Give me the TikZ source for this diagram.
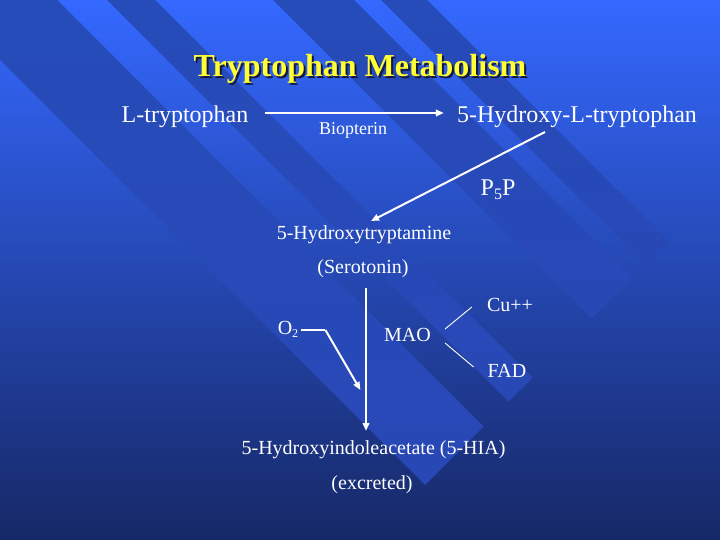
\documentclass[tikz,border=0pt]{standalone}
\usepackage{fontspec}
\setmainfont{Liberation Serif}
\usetikzlibrary{arrows.meta,calc}
\definecolor{bgtop}{RGB}{52,104,255}
\definecolor{bgmid}{RGB}{42,82,214}
\definecolor{bgbot}{RGB}{22,40,102}
\definecolor{bandtop}{RGB}{38,76,186}
\definecolor{bandbot}{RGB}{40,72,182}
\definecolor{titleyellow}{RGB}{255,255,51}
\definecolor{titleshadowcol}{RGB}{20,25,60}
\newcommand{\shadowtext}[1]{\makebox[0pt][l]{\hspace{2pt}\raisebox{-2pt}{\textcolor{titleshadowcol}{#1}}}#1}
\begin{document}
\begin{tikzpicture}[x=1pt,y=-1pt,
  txt/.style={text=white,inner sep=0pt,anchor=base},
  big/.style={txt,font=\fontsize{24}{28}\selectfont},
  mid/.style={txt,font=\fontsize{20}{24}\selectfont},
  small/.style={txt,font=\fontsize{18}{22}\selectfont},
  arr/.style={draw=white,line width=2pt,-{Triangle[length=8pt,width=6.5pt]}},
  thin/.style={draw=white,line width=0.9pt},
  band/.style={top color=bandtop,bottom color=bandbot}]
\useasboundingbox (0,0) rectangle (720,540);
\shade[top color=bgtop,middle color=bgmid,bottom color=bgbot] (0,0) rectangle (720,540);
\begin{scope}
\clip (0,0) rectangle (720,540);
\shade[band] (-60,0) -- (57,0) -- (483.5,426.5) -- (425,485) -- cycle;
\shade[band] (107,0) -- (155,0) -- (532.5,377.5) -- (508.5,401.5) -- cycle;
\shade[band] (273,0) -- (354,0) -- (632,278) -- (591.5,318.5) -- cycle;
\shade[band] (381,0) -- (427,0) -- (668.5,241.5) -- (645.5,264.5) -- cycle;
\end{scope}
% title
\node[txt,text=titleyellow,font=\bfseries\fontsize{32}{36}\selectfont] (title) at (360,77) {\shadowtext{Tryptophan Metabolism}};
% texts
\node[big] (ltrp) at (185,123) {L-tryptophan};
\node[big] (htrp) at (577,123) {5-Hydroxy-L-tryptophan};
\node[small] (bio) at (353,135) {Biopterin};
\node[big] (p5p) at (498,196) {P\raisebox{-0.35ex}{\fontsize{16}{16}\selectfont 5}P};
\node[mid] (sero1) at (364,240) {5-Hydroxytryptamine};
\node[mid] (sero2) at (363,273) {(Serotonin)};
\node[mid] (cu) at (510,311) {Cu++};
\node[mid] (mao) at (407.5,341) {MAO};
\node[mid] (fad) at (507,377) {FAD};
\node[mid] (o2) at (288,334) {O\raisebox{-0.35ex}{\fontsize{12}{12}\selectfont 2}};
\node[mid] (hia) at (373.5,454) {5-Hydroxyindoleacetate (5-HIA)};
\node[mid] (excr) at (372,489) {(excreted)};
% connectors
\draw[arr] ($(ltrp.base east)+(16,-10)$) -- ($(htrp.base west)+(-13,-10)$);
\draw[arr] ($(htrp.base)+(-32,9)$) -- ($(sero1.base)+(7,-19)$);
\coordinate (vs) at ($(sero2.base)+(3,15)$);
\draw[arr] (vs) -- ($(vs)+(0,143)$);
\coordinate (os) at ($(o2.base east)+(3,-4)$);
\draw[draw=white,line width=1.2pt] (os) -- ++(24,0) coordinate (ok);
\draw[arr] (ok) -- ++(35,60);
\draw[thin] ($(mao.base east)+(14,-12)$) -- ($(cu.base west)+(-15,-4)$);
\draw[thin] ($(mao.base east)+(14,2)$) -- ($(fad.base west)+(-14,-10)$);
\end{tikzpicture}
\end{document}
